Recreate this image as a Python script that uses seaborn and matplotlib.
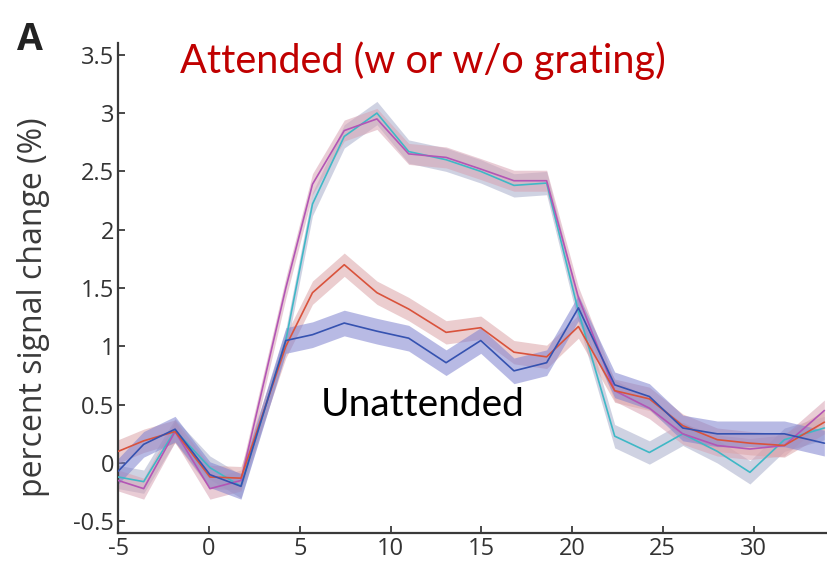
import numpy as np
import pandas as pd
import matplotlib
matplotlib.use("Agg")
import matplotlib.pyplot as plt
import seaborn as sns

# ---- data ----
time_s = [-5.0, -3.6, -1.87, 0.05, 1.76, 4.23, 5.7, 7.45, 9.25, 11.0, 13.06,
          14.97, 16.8, 18.6, 20.35, 22.35, 24.26, 26.1, 28.0, 29.8, 31.7, 33.9]

attended_grating = [-0.15, -0.22, 0.27, -0.22, -0.15, 1.50, 2.39, 2.85, 2.95, 2.65, 2.62,
                    2.52, 2.42, 2.42, 1.42, 0.62, 0.47, 0.25, 0.15, 0.12, 0.15, 0.45]
attended_nograting = [-0.12, -0.16, 0.28, -0.04, -0.20, 1.05, 2.22, 2.80, 3.00, 2.67, 2.60,
                      2.50, 2.38, 2.40, 1.30, 0.23, 0.09, 0.25, 0.10, -0.08, 0.20, 0.30]
unattended_grating = [0.10, 0.19, 0.27, -0.12, -0.13, 1.00, 1.46, 1.70, 1.46, 1.32, 1.12,
                      1.16, 0.95, 0.91, 1.17, 0.62, 0.55, 0.32, 0.20, 0.17, 0.15, 0.35]
unattended_nograting = [-0.07, 0.16, 0.29, -0.10, -0.20, 1.05, 1.10, 1.20, 1.13, 1.07, 0.86,
                        1.05, 0.79, 0.86, 1.33, 0.67, 0.57, 0.30, 0.25, 0.25, 0.25, 0.17]

err_attended_grating = [0.09] * 22
err_attended_nograting = [0.10] * 22
err_unattended_grating = [0.10] * 22
err_unattended_nograting = [0.11] * 22

series_names = ["att_nograting", "att_grating", "unatt_grating", "unatt_nograting"]
line_colors = ["#3fb8c6", "#b355b5", "#d9533c", "#3552b0"]
band_colors = ["#a9aecb", "#d7a3b4", "#dba4a8", "#7f82cf"]

yticks = [-0.5, 0, 0.5, 1, 1.5, 2, 2.5, 3, 3.5]
ytick_labels = ["-0.5", "0", "0.5", "1", "1.5", "2", "2.5", "3", "3.5"]
xticks = [-5, 0, 5, 10, 15, 20, 25, 30]
xtick_labels = ["-5", "0", "5", "10", "15", "20", "25", "30"]

means = {
    "att_nograting": attended_nograting,
    "att_grating": attended_grating,
    "unatt_grating": unattended_grating,
    "unatt_nograting": unattended_nograting,
}
errs = {
    "att_nograting": err_attended_nograting,
    "att_grating": err_attended_grating,
    "unatt_grating": err_unattended_grating,
    "unatt_nograting": err_unattended_nograting,
}

rows = []
for name in series_names:
    for t, m, e in zip(time_s, means[name], errs[name]):
        rows.append({"time": t, "psc": m, "err": e, "cond": name})
df = pd.DataFrame(rows)

sns.set_theme(style="white")
plt.rcParams["font.family"] = ["Open Sans", "DejaVu Sans"]

fig = plt.figure(figsize=(8.27, 5.67), dpi=100)
ax = fig.add_axes([0.143, 0.06, 0.856, 0.864])

for name, lc, bc in zip(series_names, line_colors, band_colors):
    d = df[df["cond"] == name]
    ax.fill_between(d["time"], d["psc"] - d["err"], d["psc"] + d["err"],
                    color=bc, alpha=0.55, linewidth=0, zorder=1)

sns.lineplot(data=df, x="time", y="psc", hue="cond", hue_order=series_names,
             palette=line_colors, linewidth=1.2, legend=False, ax=ax,
             errorbar=None, zorder=3)

ax.set_xlim(-5, 34)
ax.set_ylim(-0.6, 3.6)
ax.set_xticks(xticks)
ax.set_xticklabels(xtick_labels)
ax.set_yticks(yticks)
ax.set_yticklabels(ytick_labels)
ax.set_xlabel("")
ax.set_ylabel("percent signal change (%)", fontsize=23, color="#3a3a3a")
ax.yaxis.set_label_coords(-0.096, 0.46)

for s in ["top", "right"]:
    ax.spines[s].set_visible(False)
for s in ["left", "bottom"]:
    ax.spines[s].set_color("#3a3a3a")
    ax.spines[s].set_linewidth(1.6)
ax.tick_params(axis="both", direction="in", length=5, width=1.3, color="#3a3a3a",
               labelsize=17, labelcolor="#333333", left=True, bottom=True, pad=3)

ax.text(0.43, 0.965, "Attended (w or w/o grating)", transform=ax.transAxes,
        ha="center", va="center", fontsize=28.5, color="#c00000", family=["Lato", "DejaVu Sans"])
ax.text(0.43, 0.262, "Unattended", transform=ax.transAxes,
        ha="center", va="center", fontsize=28, color="black", family=["Lato", "DejaVu Sans"])
fig.text(0.036, 0.93, "A", fontsize=27, fontweight="bold", color="#222222", ha="center", va="center")

fig.savefig("out.png", dpi=100)
